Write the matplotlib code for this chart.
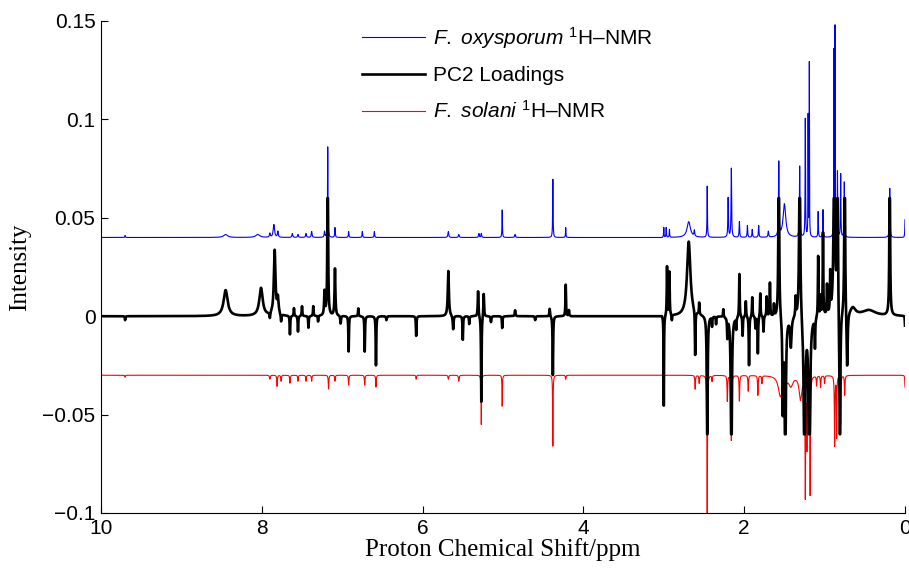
import numpy as np
import matplotlib
matplotlib.use('Agg')
import matplotlib.pyplot as plt

plt.rcParams['font.family'] = ['Liberation Sans', 'DejaVu Sans']
plt.rcParams['mathtext.fontset'] = 'custom'
plt.rcParams['mathtext.rm'] = 'Liberation Sans'
plt.rcParams['mathtext.it'] = 'Liberation Sans:italic'
plt.rcParams['mathtext.bf'] = 'Liberation Sans:bold'

# peak lists: position (ppm), height, half width (ppm)
ox_ppm = [9.70, 8.45, 8.05, 7.90, 7.85, 7.80, 7.62, 7.55, 7.45, 7.38, 7.22, 7.18,
          7.09, 6.92, 6.75, 6.60, 5.68, 5.55, 5.30, 5.27, 5.01, 4.85, 4.38, 4.22,
          3.00, 2.97, 2.93, 2.69, 2.62, 2.46, 2.20, 2.16, 2.06, 1.96, 1.90, 1.82,
          1.70, 1.57, 1.50, 1.31, 1.24, 1.205, 1.19, 1.08, 1.02, 0.885, 0.87, 0.84,
          0.80, 0.755, 0.19, 0.00]
ox_height = [0.001, 0.0015, 0.0015, 0.002, 0.0065, 0.003, 0.002, 0.0015, 0.002, 0.003, 0.003, 0.046,
             0.005, 0.003, 0.003, 0.003, 0.003, 0.0015, 0.002, 0.002, 0.014, 0.0015, 0.0296, 0.005,
             0.005, 0.005, 0.004, 0.008, 0.003, 0.026, 0.020, 0.035, 0.008, 0.006, 0.004, 0.006,
             0.003, 0.0376, 0.017, 0.036, 0.060, 0.061, 0.088, 0.013, 0.014, 0.094, 0.106, 0.033,
             0.032, 0.028, 0.025, 0.009]
ox_width = [0.004, 0.03, 0.03, 0.006, 0.01, 0.006, 0.006, 0.006, 0.006, 0.006, 0.005, 0.003,
            0.004, 0.004, 0.004, 0.004, 0.006, 0.006, 0.005, 0.005, 0.003, 0.006, 0.003, 0.003,
            0.003, 0.003, 0.003, 0.025, 0.005, 0.003, 0.004, 0.004, 0.004, 0.004, 0.004, 0.004,
            0.005, 0.004, 0.02, 0.004, 0.003, 0.002, 0.002, 0.003, 0.003, 0.002, 0.002, 0.003,
            0.003, 0.003, 0.004, 0.003]

pc2_ppm = [9.70, 8.45, 8.01, 7.90, 7.84, 7.80, 7.76, 7.65, 7.60, 7.55, 7.50, 7.42, 7.36,
           7.30, 7.22, 7.18, 7.09, 7.02, 6.92, 6.80, 6.72, 6.58, 6.45, 6.08, 5.68, 5.62,
           5.50, 5.42, 5.31, 5.27, 5.24, 5.15, 5.01, 4.85, 4.60, 4.42, 4.38, 4.22, 4.18,
           3.00, 2.96, 2.93, 2.90, 2.69, 2.61, 2.56, 2.46, 2.40, 2.35, 2.26, 2.21, 2.16,
           2.10, 2.06, 2.02, 1.98, 1.94, 1.90, 1.86, 1.83, 1.80, 1.76, 1.72, 1.68, 1.63,
           1.57, 1.52, 1.49, 1.42, 1.36, 1.31, 1.25, 1.19, 1.12, 1.08, 1.05, 1.02, 0.97,
           0.93, 0.88, 0.84, 0.81, 0.75, 0.72, 0.65, 0.45, 0.19, 0.00]
pc2_height = [-0.002, 0.0132, 0.0142, -0.003, 0.033, 0.008, -0.004, -0.0095, 0.004, -0.008, 0.005, -0.006, 0.005,
              -0.003, 0.012, 0.090, 0.024, -0.004, -0.018, 0.004, -0.018, -0.025, -0.002, -0.010, 0.023, -0.007,
              -0.012, -0.004, 0.013, -0.044, 0.012, -0.003, -0.006, 0.003, -0.002, 0.004, -0.030, 0.016, 0.003,
              -0.046, 0.025, 0.022, -0.003, 0.038, -0.023, 0.006, -0.090, -0.005, -0.004, 0.004, -0.010, -0.090,
              -0.006, 0.022, -0.010, 0.008, -0.025, 0.010, -0.006, -0.019, 0.012, -0.008, 0.010, 0.017, 0.006,
              0.090, -0.046, -0.090, -0.015, 0.010, 0.090, -0.090, -0.090, -0.015, 0.031, 0.010, 0.042, 0.015,
              0.020, 0.090, 0.090, -0.090, 0.090, -0.030, 0.004, 0.003, 0.090, -0.005]
pc2_width = [0.004, 0.03, 0.025, 0.005, 0.012, 0.01, 0.005, 0.004, 0.004, 0.004, 0.004, 0.004, 0.004,
             0.004, 0.006, 0.005, 0.006, 0.005, 0.004, 0.004, 0.004, 0.004, 0.005, 0.004, 0.008, 0.006,
             0.004, 0.004, 0.005, 0.004, 0.005, 0.005, 0.004, 0.005, 0.005, 0.005, 0.004, 0.004, 0.004,
             0.003, 0.004, 0.004, 0.004, 0.025, 0.004, 0.004, 0.005, 0.004, 0.004, 0.004, 0.004, 0.007,
             0.004, 0.004, 0.004, 0.004, 0.004, 0.004, 0.004, 0.004, 0.004, 0.004, 0.004, 0.004, 0.004,
             0.006, 0.006, 0.008, 0.01, 0.005, 0.008, 0.01, 0.01, 0.004, 0.004, 0.004, 0.004, 0.004,
             0.004, 0.01, 0.006, 0.006, 0.006, 0.008, 0.04, 0.1, 0.005, 0.003]

sol_ppm = [9.70, 7.90, 7.81, 7.76, 7.65, 7.55, 7.45, 7.38, 7.17, 7.09, 6.92, 6.72, 6.58,
           6.08, 5.68, 5.55, 5.27, 5.01, 4.38, 4.22, 3.00, 2.61, 2.56, 2.46, 2.40, 2.21,
           2.16, 2.06, 1.95, 1.83, 1.78, 1.55, 1.50, 1.42, 1.30, 1.24, 1.22, 1.18, 1.10,
           1.05, 1.00, 0.875, 0.85, 0.80, 0.75, 0.00]
sol_depth = [0.001, 0.002, 0.0056, 0.003, 0.004, 0.003, 0.003, 0.003, 0.007, 0.003, 0.005, 0.005, 0.006,
             0.002, 0.002, 0.003, 0.025, 0.0157, 0.036, 0.002, 0.002, 0.007, 0.004, 0.080, 0.003, 0.013,
             0.033, 0.013, 0.008, 0.010, 0.004, 0.010, 0.016, 0.005, 0.012, 0.060, 0.035, 0.060, 0.005,
             0.006, 0.004, 0.0356, 0.031, 0.025, 0.010, 0.006]
sol_width = [0.004, 0.005, 0.004, 0.004, 0.004, 0.004, 0.004, 0.004, 0.004, 0.004, 0.004, 0.004, 0.004,
             0.004, 0.005, 0.005, 0.003, 0.003, 0.003, 0.004, 0.004, 0.004, 0.004, 0.003, 0.004, 0.004,
             0.004, 0.004, 0.004, 0.004, 0.004, 0.03, 0.01, 0.03, 0.02, 0.004, 0.004, 0.004, 0.004,
             0.004, 0.004, 0.004, 0.003, 0.003, 0.004, 0.003]

ox_offset = 0.04
sol_offset = -0.03
pc2_limit = 0.06          # loadings are saturated at +/-0.06 in the original
excluded = (3.02, 4.15)   # water region removed from all spectra

ppm = np.linspace(10, 0, 10001)
keep = ~((ppm > excluded[0]) & (ppm < excluded[1]))


def spectrum(pos, h, w):
    y = np.zeros_like(ppm)
    for p, a, g in zip(pos, h, w):
        y += a * g**2 / ((ppm - p)**2 + g**2)
    return y * keep


ox = ox_offset + spectrum(ox_ppm, ox_height, ox_width)
pc2 = np.clip(spectrum(pc2_ppm, pc2_height, pc2_width), -pc2_limit, pc2_limit)
sol = sol_offset - spectrum(sol_ppm, sol_depth, sol_width)

fig = plt.figure(figsize=(9.09, 5.71), dpi=100)
ax = fig.add_axes([101/909, 1 - 513/571, 804/909, 492/571])

l1, = ax.plot(ppm, ox, color='#0000ff', lw=0.8, zorder=2)
l3, = ax.plot(ppm, sol, color='#ff0000', lw=0.8, zorder=2)
l2, = ax.plot(ppm, pc2, color='black', lw=1.9, zorder=3)

ax.set_xlim(10, 0)
ax.set_ylim(-0.1, 0.15)
ax.set_xticks([10, 8, 6, 4, 2, 0])
ax.set_xticklabels(['10', '8', '6', '4', '2', '0'])
ax.set_yticks([-0.1, -0.05, 0, 0.05, 0.1, 0.15])
ax.set_yticklabels(['\u22120.1', '\u22120.05', '0', '0.05', '0.1', '0.15'])
ax.tick_params(direction='in', length=5, width=0.8, labelsize=15, pad=4)
for s in ['top', 'right']:
    ax.spines[s].set_visible(False)
for s in ['left', 'bottom']:
    ax.spines[s].set_linewidth(0.8)

ax.set_xlabel('Proton Chemical Shift/ppm', family='Liberation Serif', fontsize=18, labelpad=0)
ax.set_ylabel('Intensity', family='Liberation Serif', fontsize=18, labelpad=8)

labels = ['$\\mathit{F.}$ $\\mathit{oxysporum}$ $^{1}$H\u2013NMR',
          'PC2 Loadings',
          '$\\mathit{F.}$ $\\mathit{solani}$ $^{1}$H\u2013NMR']
leg = ax.legend([l1, l2, l3], labels, loc='upper left', frameon=False, fontsize=15,
                bbox_to_anchor=(362/909, 1 - 25/571), bbox_transform=fig.transFigure,
                borderaxespad=0, borderpad=0, handlelength=3.0, handletextpad=0.4,
                labelspacing=0.72)

fig.savefig('out.png', dpi=100)
